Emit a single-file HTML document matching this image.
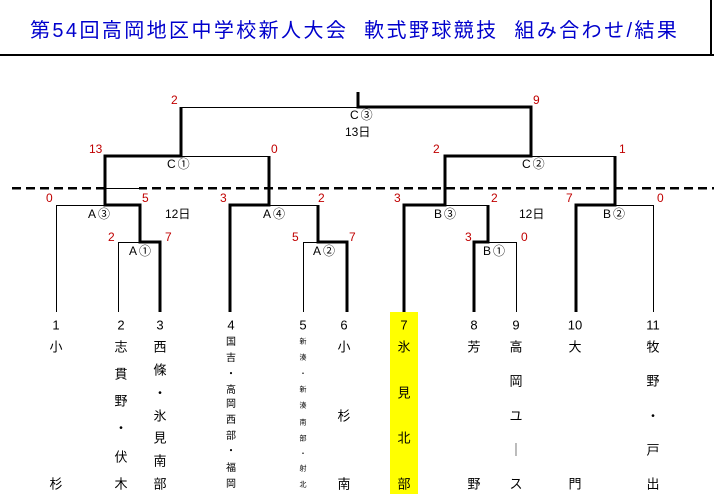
<!DOCTYPE html>
<html><head><meta charset="utf-8"><style>
html,body{margin:0;padding:0;background:#fff;}
body{width:714px;height:494px;position:relative;overflow:hidden;font-family:"Liberation Sans","Noto Sans CJK JP",sans-serif;}
.t{position:absolute;white-space:nowrap;line-height:1;}
.r{color:#c00000;font-size:12px;}
.k{color:#000;font-size:12px;letter-spacing:2px;}
.c{position:absolute;transform:translate(-50%,-50%);font-size:13px;line-height:1;color:#000;white-space:nowrap;}
.s{font-size:10px;}
.xs{font-size:7px;}
</style></head><body>
<div class="t" style="left:30px;top:21px;font-size:20px;color:#0000cc;letter-spacing:2.4px;">第54回高岡地区中学校新人大会&nbsp; 軟式野球競技&nbsp; 組み合わせ/結果</div>
<div style="position:absolute;left:0;top:54px;width:714px;height:2px;background:#000;"></div>
<div style="position:absolute;left:710px;top:0;width:2px;height:56px;background:#000;"></div>
<div style="position:absolute;left:390px;top:312px;width:28px;height:182px;background:#ffff00;"></div>
<svg width="714" height="494" style="position:absolute;left:0;top:0" shape-rendering="crispEdges">
<g stroke="#000" fill="none" stroke-width="1">
<line x1="12" y1="188" x2="714" y2="188" stroke-width="2.5" stroke-dasharray="9,5"/>
<rect x="107" y="186" width="32" height="4" fill="#fff" stroke="none"/>
<line x1="105" y1="188.5" x2="140" y2="188.5"/>
<polyline points="56.5,312 56.5,205.5 105,205.5"/>
<polyline points="118.5,312 118.5,242.5 140,242.5"/>
<polyline points="269,205.5 318,205.5"/>
<polyline points="303.5,312 303.5,242.5 318,242.5"/>
<polyline points="181,156.5 269,156.5"/>
<polyline points="181,107.5 358,107.5"/>
<polyline points="445,205.5 488,205.5"/>
<polyline points="488,242.5 516.5,242.5 516.5,312"/>
<polyline points="615,205.5 653.5,205.5 653.5,312"/>
<polyline points="531,156.5 615,156.5"/>
</g>
<g stroke="#000" fill="none" stroke-width="3" stroke-linejoin="miter">
<polyline points="160,312 160,242 140,242 140,205 105,205 105,156 181,156 181,107"/>
<polyline points="230,312 230,205 269,205 269,156"/>
<polyline points="347,312 347,242 318,242 318,205"/>
<polyline points="358,92 358,107 531,107 531,156 445,156 445,205 404,205 404,312"/>
<polyline points="474,312 474,242 488,242 488,205"/>
<polyline points="576,312 576,205 615,205 615,156"/>
</g>
</svg>
<div class="t r" style="left:171px;top:94px">2</div>
<div class="t r" style="left:533px;top:94px">9</div>
<div class="t r" style="left:89px;top:143px">13</div>
<div class="t r" style="left:271px;top:143px">0</div>
<div class="t r" style="left:433px;top:143px">2</div>
<div class="t r" style="left:619px;top:143px">1</div>
<div class="t r" style="left:46px;top:192px">0</div>
<div class="t r" style="left:142px;top:192px">5</div>
<div class="t r" style="left:220px;top:192px">3</div>
<div class="t r" style="left:318px;top:192px">2</div>
<div class="t r" style="left:394px;top:192px">3</div>
<div class="t r" style="left:491px;top:192px">2</div>
<div class="t r" style="left:566px;top:192px">7</div>
<div class="t r" style="left:657px;top:192px">0</div>
<div class="t r" style="left:108px;top:231px">2</div>
<div class="t r" style="left:165px;top:231px">7</div>
<div class="t r" style="left:292px;top:231px">5</div>
<div class="t r" style="left:349px;top:231px">7</div>
<div class="t r" style="left:465px;top:231px">3</div>
<div class="t r" style="left:521px;top:231px">0</div>
<div class="t k" style="left:350px;top:109px">C③</div>
<div class="t k" style="left:345px;top:126px;letter-spacing:0">13日</div>
<div class="t k" style="left:167px;top:158px">C①</div>
<div class="t k" style="left:522px;top:158px">C②</div>
<div class="t k" style="left:88px;top:208px">A③</div>
<div class="t k" style="left:165px;top:208px;letter-spacing:0">12日</div>
<div class="t k" style="left:263px;top:208px">A④</div>
<div class="t k" style="left:434px;top:208px">B③</div>
<div class="t k" style="left:519px;top:208px;letter-spacing:0">12日</div>
<div class="t k" style="left:603px;top:208px">B②</div>
<div class="t k" style="left:129px;top:245px">A①</div>
<div class="t k" style="left:313px;top:245px">A②</div>
<div class="t k" style="left:483px;top:245px">B①</div>
<div class="c" style="left:56px;top:325px">1</div>
<div class="c" style="left:121px;top:325px">2</div>
<div class="c" style="left:160px;top:325px">3</div>
<div class="c" style="left:231px;top:325px">4</div>
<div class="c" style="left:303px;top:325px">5</div>
<div class="c" style="left:344px;top:325px">6</div>
<div class="c" style="left:404px;top:325px">7</div>
<div class="c" style="left:474px;top:325px">8</div>
<div class="c" style="left:516px;top:325px">9</div>
<div class="c" style="left:575px;top:325px">10</div>
<div class="c" style="left:653px;top:325px">11</div>
<div class="c" style="left:56px;top:347px">小</div><div class="c" style="left:56px;top:484px">杉</div>
<div class="c" style="left:121px;top:347px">志</div><div class="c" style="left:121px;top:374px">貫</div><div class="c" style="left:121px;top:401px">野</div><div class="c" style="left:121px;top:428px">・</div><div class="c" style="left:121px;top:457px">伏</div><div class="c" style="left:121px;top:484px">木</div>
<div class="c" style="left:160px;top:347px">西</div><div class="c" style="left:160px;top:370px">條</div><div class="c" style="left:160px;top:393px">・</div><div class="c" style="left:160px;top:416px">氷</div><div class="c" style="left:160px;top:438px">見</div><div class="c" style="left:160px;top:461px">南</div><div class="c" style="left:160px;top:484px">部</div>
<div class="c s" style="left:231px;top:343px">国</div><div class="c s" style="left:231px;top:359px">吉</div><div class="c s" style="left:231px;top:375px">・</div><div class="c s" style="left:231px;top:391px">高</div><div class="c s" style="left:231px;top:405px">岡</div><div class="c s" style="left:231px;top:421px">西</div><div class="c s" style="left:231px;top:437px">部</div><div class="c s" style="left:231px;top:452px">・</div><div class="c s" style="left:231px;top:469px">福</div><div class="c s" style="left:231px;top:485px">岡</div>
<div class="c xs" style="left:303px;top:342px">新</div><div class="c xs" style="left:303px;top:358px">湊</div><div class="c xs" style="left:303px;top:374px">・</div><div class="c xs" style="left:303px;top:390px">新</div><div class="c xs" style="left:303px;top:406px">湊</div><div class="c xs" style="left:303px;top:423px">南</div><div class="c xs" style="left:303px;top:439px">部</div><div class="c xs" style="left:303px;top:454px">・</div><div class="c xs" style="left:303px;top:469px">射</div><div class="c xs" style="left:303px;top:485px">北</div>
<div class="c" style="left:344px;top:347px">小</div><div class="c" style="left:344px;top:416px">杉</div><div class="c" style="left:344px;top:484px">南</div>
<div class="c" style="left:404px;top:347px">氷</div><div class="c" style="left:404px;top:393px">見</div><div class="c" style="left:404px;top:438px">北</div><div class="c" style="left:404px;top:484px">部</div>
<div class="c" style="left:474px;top:347px">芳</div><div class="c" style="left:474px;top:484px">野</div>
<div class="c" style="left:516px;top:347px">高</div><div class="c" style="left:516px;top:381px">岡</div><div class="c" style="left:516px;top:416px">ユ</div><div class="c" style="left:516px;top:450px">｜</div><div class="c" style="left:516px;top:484px">ス</div>
<div class="c" style="left:575px;top:347px">大</div><div class="c" style="left:575px;top:484px">門</div>
<div class="c" style="left:653px;top:347px">牧</div><div class="c" style="left:653px;top:381px">野</div><div class="c" style="left:653px;top:416px">・</div><div class="c" style="left:653px;top:450px">戸</div><div class="c" style="left:653px;top:484px">出</div>
</body></html>
